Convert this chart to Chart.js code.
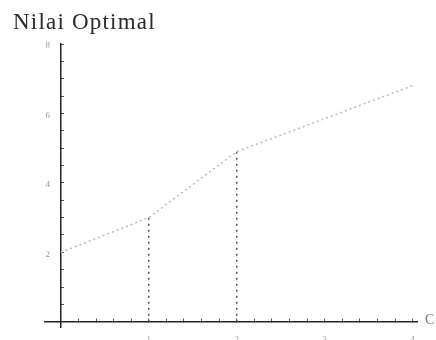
<!DOCTYPE html>
<html>
<head>
<meta charset="utf-8">
<script src="https://cdn.jsdelivr.net/npm/chart.js@4/dist/chart.umd.min.js"></script>
<style>
html,body{margin:0;padding:0;background:#fff;}
#wrap{width:436px;height:340px;position:relative;}
</style>
</head>
<body>
<div id="wrap"><canvas id="c" width="436" height="340"></canvas></div>
<script>
// Data
const xValues = [0, 1, 2, 4];
const optimalValues = [2, 3, 4.9, 6.8];
const dropIndices = [1, 2];
const xTickLabels = [1, 2, 3, 4];
const yTickLabels = [2, 4, 6, 8];
const titleText = 'Nilai Optimal';
const xAxisName = 'C';

const linePoints = xValues.map((x, i) => ({x: x, y: optimalValues[i]}));
const dropSets = dropIndices.map(i => ({
  data: [{x: xValues[i], y: 0}, {x: xValues[i], y: optimalValues[i]}],
  showLine: true,
  borderColor: '#555',
  borderWidth: 1.5,
  borderDash: [2, 4],
  pointRadius: 0,
  fill: false
}));

function near(v, arr){ return arr.some(a => Math.abs(a - v) < 1e-6); }
function onStep(v, s){ return Math.abs(v / s - Math.round(v / s)) < 1e-6; }

const textPlugin = {
  id: 'texts',
  afterDraw(chart){
    const ctx = chart.ctx;
    const xs = chart.scales.x, ys = chart.scales.y;
    ctx.save();
    // title
    ctx.fillStyle = '#2a2a2a';
    ctx.font = '23px "Liberation Serif", "DejaVu Serif", serif';
    ctx.textBaseline = 'alphabetic';
    ctx.textAlign = 'left';
    try { ctx.letterSpacing = '1.2px'; } catch(e){}
    ctx.fillText(titleText, 13, 29);
    try { ctx.letterSpacing = '0px'; } catch(e){}
    // y tick labels, left of the axis
    const axisX = xs.getPixelForValue(0);
    ctx.fillStyle = '#999';
    ctx.font = '9px "Liberation Serif", serif';
    ctx.textAlign = 'center';
    ctx.textBaseline = 'middle';
    yTickLabels.forEach(v => ctx.fillText(String(v), axisX - 13, ys.getPixelForValue(v) + 2));
    // x axis name
    ctx.fillStyle = '#777';
    ctx.font = '14px "Liberation Serif", serif';
    ctx.textAlign = 'left';
    ctx.fillText(xAxisName, xs.right + 8, ys.getPixelForValue(0) - 1);
    ctx.restore();
  }
};

new Chart(document.getElementById('c'), {
  type: 'scatter',
  data: {
    datasets: [{
      data: linePoints,
      showLine: true,
      borderColor: '#bdbdbd',
      borderWidth: 1.6,
      borderDash: [2, 3],
      pointRadius: 0,
      tension: 0,
      fill: false
    }].concat(dropSets)
  },
  options: {
    responsive: false,
    animation: false,
    layout: {padding: {left: 45, right: 19, top: 44, bottom: 13}},
    plugins: {legend: {display: false}, tooltip: {enabled: false}, title: {display: false}},
    scales: {
      x: {
        type: 'linear',
        position: {y: 0},
        min: -0.18,
        max: 4.05,
        afterFit(s){ s.height = 0; s.paddingLeft = 0; s.paddingRight = 0; s.paddingTop = 0; s.paddingBottom = 0; },
        ticks: {
          stepSize: 0.2,
          includeBounds: false,
          autoSkip: false,
          maxRotation: 0,
          padding: 16,
          color: '#999',
          font: {size: 9, family: '"Liberation Serif", serif'},
          callback: v => near(v, xTickLabels) ? String(v) : ''
        },
        grid: {
          drawOnChartArea: false,
          drawTicks: true,
          tickLength: -4,
          tickWidth: 1,
          tickColor: c => (c.tick && c.tick.value >= 0 && onStep(c.tick.value, 0.2) && c.tick.value <= 4.001) ? '#555' : 'rgba(0,0,0,0)'
        },
        border: {display: true, color: '#222', width: 1.5}
      },
      y: {
        type: 'linear',
        position: {x: 0},
        min: -0.15,
        max: 8,
        afterFit(s){ s.width = 0; s.paddingLeft = 0; s.paddingRight = 0; s.paddingTop = 0; s.paddingBottom = 0; },
        ticks: {
          stepSize: 0.5,
          includeBounds: false,
          autoSkip: false,
          padding: 0,
          callback: () => ''
        },
        grid: {
          drawOnChartArea: false,
          drawTicks: true,
          tickLength: -4,
          tickWidth: 1,
          tickColor: c => (c.tick && c.tick.value > 0 && onStep(c.tick.value, 0.5)) ? '#555' : 'rgba(0,0,0,0)'
        },
        border: {display: true, color: '#222', width: 1.5}
      }
    }
  },
  plugins: [textPlugin]
});
</script>
</body>
</html>
